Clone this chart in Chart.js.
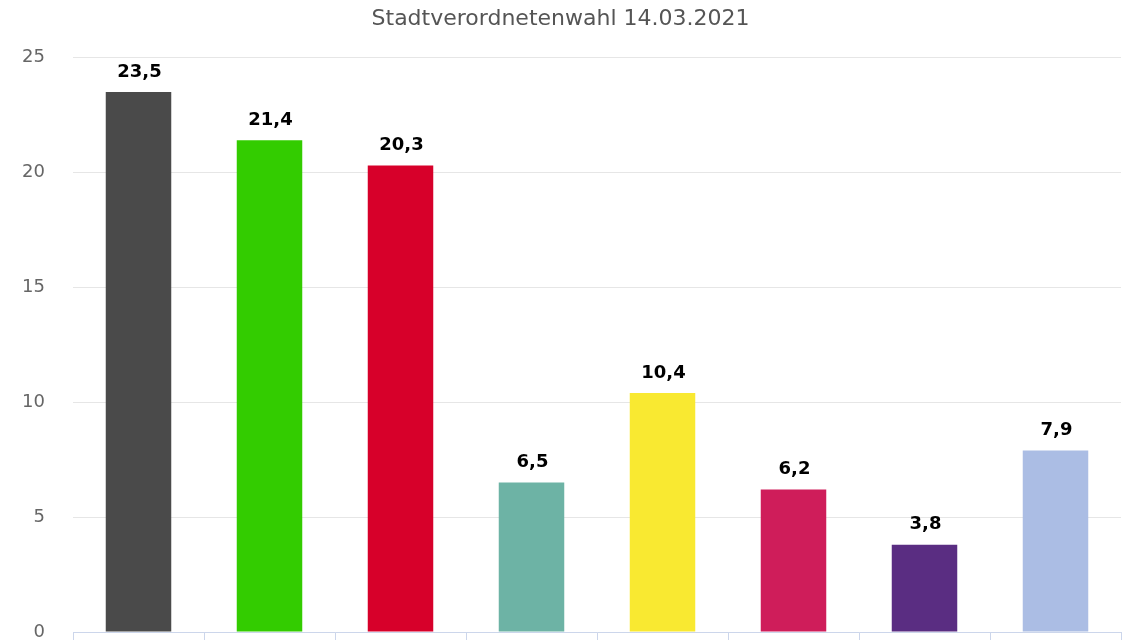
<!DOCTYPE html>
<html>
<head>
<meta charset="utf-8">
<script src="https://cdn.jsdelivr.net/npm/chart.js@4/dist/chart.umd.min.js"></script>
<style>
  html, body { margin: 0; padding: 0; background: #ffffff; overflow: hidden; }
  #wrap { width: 1140px; height: 700px; }
</style>
</head>
<body>
<div id="wrap"><canvas id="c" width="1140" height="700"></canvas></div>
<script>
const chartTitle = "Stadtverordnetenwahl 14.03.2021";
const categories = ["CDU", "GRÜNE", "SPD", "FW", "FDP", "DIE LINKE", "Volt", "AfD"];
const values = [23.5, 21.4, 20.3, 6.5, 10.4, 6.2, 3.8, 7.9];
const barColors = ["#4a4a4a", "#33cc00", "#d7002a", "#6db3a5", "#f9e931", "#cf1d5a", "#5a2d82", "#abbde4"];
const yTicks = [0, 5, 10, 15, 20, 25];

const FONT = "'DejaVu Sans', sans-serif";

const valueLabels = {
  id: "valueLabels",
  afterDatasetsDraw(chart) {
    const ctx = chart.ctx;
    const meta = chart.getDatasetMeta(0);
    ctx.save();
    ctx.font = "bold 18px " + FONT;
    ctx.fillStyle = "#000000";
    ctx.textAlign = "center";
    ctx.textBaseline = "middle";
    meta.data.forEach((bar, i) => {
      const txt = values[i].toFixed(1).replace(".", ",");
      ctx.fillText(txt, bar.x + 1, bar.y - 20);
    });
    ctx.restore();
  }
};

new Chart(document.getElementById("c"), {
  type: "bar",
  data: {
    labels: categories,
    datasets: [{
      data: values,
      backgroundColor: barColors,
      borderWidth: 0,
      barPercentage: 0.5,
      categoryPercentage: 1.0
    }]
  },
  options: {
    responsive: false,
    animation: false,
    devicePixelRatio: 1,
    layout: { padding: { left: 0, right: 19, top: 0, bottom: 0 } },
    plugins: {
      legend: { display: false },
      tooltip: { enabled: false },
      title: {
        display: true,
        text: chartTitle,
        color: "#555555",
        font: { family: FONT, size: 22, weight: "normal" },
        padding: { top: 6, bottom: 25 }
      }
    },
    scales: {
      x: {
        grid: {
          display: true,
          drawOnChartArea: false,
          drawTicks: true,
          tickLength: 10,
          color: "#ccd6eb",
          offset: true
        },
        border: { display: true, color: "#ccd6eb", width: 1 },
        ticks: { color: "#666666", font: { family: FONT, size: 16 }, padding: 4 },
        afterFit(scale) { scale.height = 68; }
      },
      y: {
        min: 0,
        max: 25,
        afterBuildTicks(scale) { scale.ticks = yTicks.map(v => ({ value: v })); },
        grid: { color: "#e6e6e6", drawTicks: false, lineWidth: 1 },
        border: { display: false },
        ticks: { color: "#666666", font: { family: FONT, size: 18 }, padding: 28 },
        afterFit(scale) { scale.width = 73; }
      }
    }
  },
  plugins: [valueLabels]
});
</script>
</body>
</html>
